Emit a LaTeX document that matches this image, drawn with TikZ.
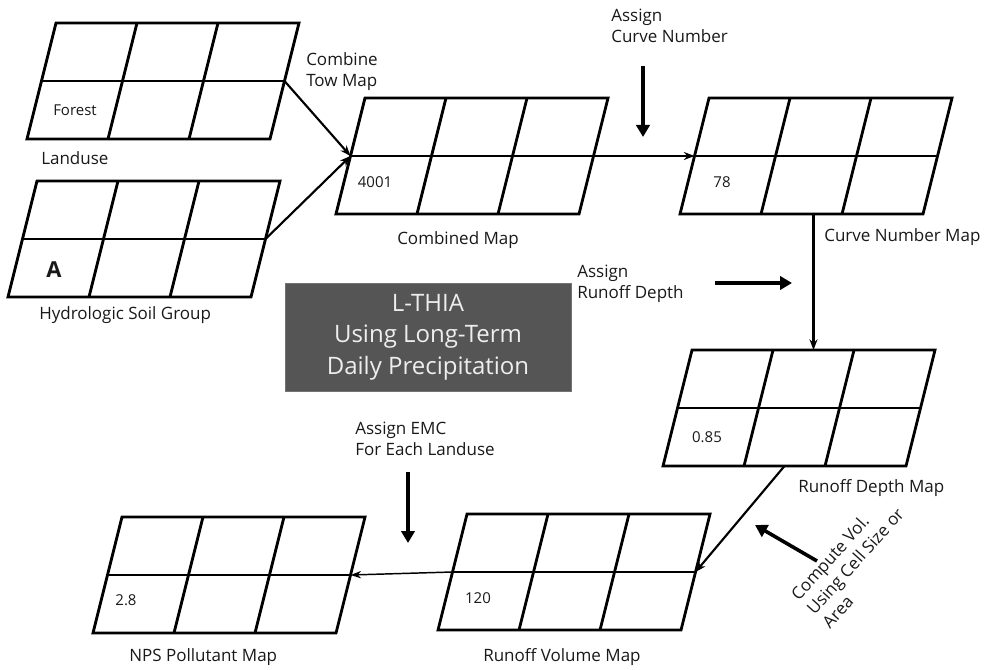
\documentclass[tikz,border=0pt]{standalone}
\usepackage{fontspec}
\setmainfont{Open Sans}
\usetikzlibrary{arrows.meta}

\definecolor{boxgray}{RGB}{85,85,85}
\definecolor{boxedge}{RGB}{115,115,115}
\definecolor{boxtext}{RGB}{238,238,238}
\definecolor{inkgray}{RGB}{25,25,25}

\tikzset{
	gridline/.style={black, line width=2.1pt, line join=miter},
	flow/.style={black, line width=1.6pt, -{Stealth[length=8pt,width=6pt]}},
	thinflow/.style={black, line width=1.1pt, -{Stealth[length=8pt,width=5.5pt]}},
	bigarrow/.style={black, line width=2.7pt, -{Triangle[length=9pt,width=10pt]}},
	maplabel/.style={inner sep=0pt, text=inkgray, font=\fontsize{12.75}{15.75}\selectfont, align=left},
	cellval/.style={inner sep=0pt, text=inkgray, font=\fontsize{11.25}{13}\selectfont},
	titlebox/.style={fill=boxgray, draw=boxedge, line width=0.6pt, text=boxtext,
		minimum width=214.5pt, minimum height=81pt, align=center,
		font=\fontsize{18}{23.6}\selectfont},
	rastermap/.pic={
		\draw[gridline] (0,0) -- (243,0) -- (214,116) -- (-29,116) -- cycle;
		\draw[gridline] (-14.5,58) -- (228.5,58);
		\draw[gridline] (81,0) -- (52,116);
		\draw[gridline] (162,0) -- (133,116);
		\coordinate (-w) at (-14.5,58);
		\coordinate (-e) at (228.5,58);
		\coordinate (-n) at (121.5,0);
		\coordinate (-s) at (92.5,116);
	}
}

\begin{document}
\begin{tikzpicture}[x=0.75pt, y=-0.75pt]
	\useasboundingbox (0,0) rectangle (992,670);
	
	% the seven maps
	\pic (landuse) at (56,23) {rastermap};
	\pic (soil) at (37,181) {rastermap};
	\pic (combined) at (365,98) {rastermap};
	\pic (cnmap) at (709,98) {rastermap};
	\pic (depth) at (692,350) {rastermap};
	\pic (volume) at (467,514) {rastermap};
	\pic (nps) at (122,517) {rastermap};
	
	\node[cellval] (forest) at (75,110) {Forest};
	\node[inner sep=0pt, text=inkgray, font=\fontsize{16.5}{18}\selectfont\bfseries] (soilA) at (54,270) {A};
	\node[cellval] (code) at (375,182) {4001};
	\node[cellval] (cn) at (722,182) {78};
	\node[cellval] (rd) at (707,437) {0.85};
	\node[cellval] (rv) at (478,598) {120};
	\node[cellval] (load) at (126,600) {2.8};
	
	\node[maplabel, anchor=west] (landuse-lbl) at (41,158) {Landuse};
	\node[maplabel, anchor=west] (soil-lbl) at (39,315) {Hydrologic Soil Group};
	\node[maplabel, anchor=west] (combined-lbl) at (397,240) {Combined Map};
	\node[maplabel, anchor=west] (cnmap-lbl) at (824,237) {Curve Number Map};
	\node[maplabel, anchor=west] (depth-lbl) at (798,488) {Runoff Depth Map};
	\node[maplabel, anchor=west] (volume-lbl) at (483,657) {Runoff Volume Map};
	\node[maplabel, anchor=west] (nps-lbl) at (129,657) {NPS Pollutant Map};
	
	% steps
	\node[maplabel, anchor=west] (combine-step) at (306,71.5) {Combine\\Tow Map};
	\node[maplabel, anchor=west] (cn-step) at (611,25.5) {Assign\\Curve Number};
	\node[maplabel, anchor=west] (depth-step) at (577,283.5) {Assign\\Runoff Depth};
	\node[maplabel, anchor=west] (emc-step) at (355,438.5) {Assign EMC\\For Each Landuse};
	\node[maplabel, rotate=48] (vol-step) at (855,561) {Compute Vol.\\Using Cell Size or\\Area};
	
	\node[titlebox] (lthia) at (428,337) {L-THIA\\Using Long-Term\\Daily Precipitation};
	
	% connectors
	\draw[flow] (landuse-e) -- (combined-w);
	\draw[flow] (soil-e) -- (combined-w);
	\draw[flow] (combined-e) -- (cnmap-w);
	\draw[flow] (depth-n |- cnmap-s) -- (depth-n);
	\draw[flow] (depth-s) -- (volume-e);
	\draw[thinflow] (volume-w) -- (nps-e);
	
	\coordinate (cn-from) at (643,66);
	\coordinate (cn-to) at (643,137);
	\coordinate (depth-from) at (715,283);
	\coordinate (depth-to) at (792,283);
	\coordinate (vol-from) at (817,561);
	\coordinate (vol-to) at (755,525);
	\coordinate (emc-from) at (408,472);
	\coordinate (emc-to) at (408,543);
	\draw[bigarrow] (cn-from) -- (cn-to);
	\draw[bigarrow] (depth-from) -- (depth-to);
	\draw[bigarrow] (vol-from) -- (vol-to);
	\draw[bigarrow] (emc-from) -- (emc-to);
	
\end{tikzpicture}
\end{document}
